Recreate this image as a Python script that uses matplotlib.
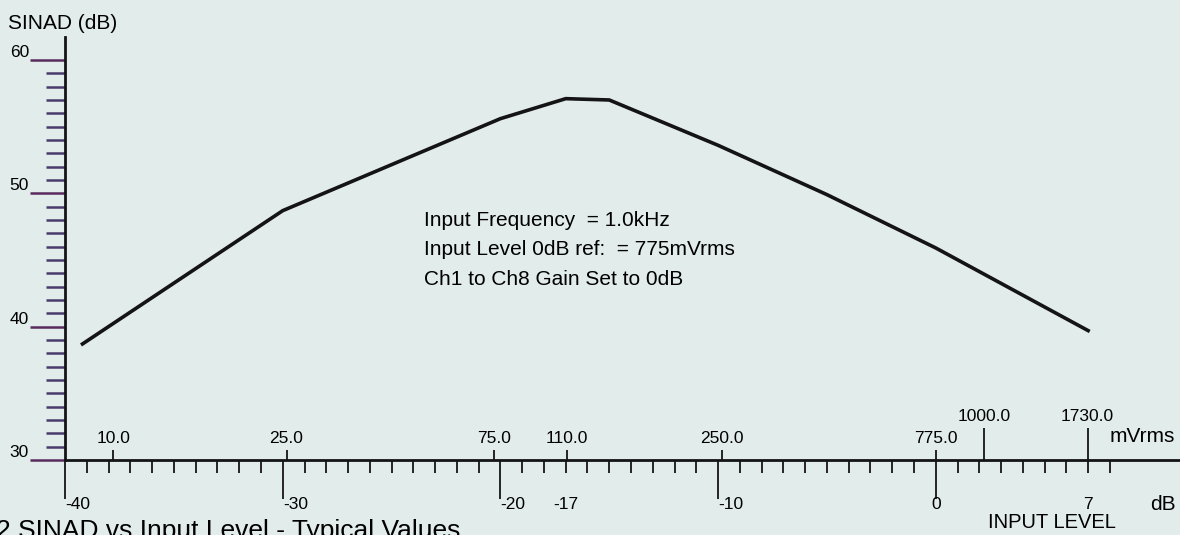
import numpy as np
import matplotlib.pyplot as plt
from matplotlib.ticker import FuncFormatter

# SINAD vs input level (typical)
level_db = [-39.2, -30, -20, -17, -15, -10, -5, 0, 7]
sinad_db = [38.7, 48.7, 55.6, 57.1, 57.0, 53.6, 49.9, 45.9, 39.7]

# axis ticks
db_major = [-40, -30, -20, -10, 0]
db_minor = [v for v in range(-39, 9) if v not in db_major]
db_minor_labels = [-17, 7]
mv_short = [10.0, 25.0, 75.0, 110.0, 250.0, 775.0]
mv_long = [1000.0, 1730.0]
sinad_major = [30, 40, 50, 60]
sinad_minor = [v for v in range(31, 60) if v not in sinad_major]

notes = ['Input Frequency  = 1.0kHz',
         'Input Level 0dB ref:  = 775mVrms',
         'Ch1 to Ch8 Gain Set to 0dB']
caption = '2 SINAD vs Input Level - Typical Values'

REF_MV = 775.0


def db_to_mv(d):
    return REF_MV * 10 ** (np.asarray(d, dtype=float) / 20)


def mv_to_db(v):
    return 20 * np.log10(np.maximum(np.asarray(v, dtype=float), 1e-6) / REF_MV)


plt.rcParams['font.family'] = ['Liberation Sans', 'DejaVu Sans']
plt.rcParams['ytick.alignment'] = 'bottom'

bg = '#e2ecea'
ink = '#141414'
fig = plt.figure(figsize=(11.8, 5.35), dpi=100)
fig.patch.set_facecolor(bg)
ax = fig.add_axes([0, 0, 1, 1])
ax.set_facecolor(bg)
xlim = (-42.99, 11.22)
ylim = (24.37, 64.5)
ax.set_xlim(*xlim)
ax.set_ylim(*ylim)

ax.plot(level_db, sinad_db, color=ink, lw=2.6, solid_joinstyle='miter')

# axes through (-40 dB, 30 dB SINAD)
for s in ['top', 'right']:
    ax.spines[s].set_visible(False)
ax.spines['left'].set_position(('data', -40))
ax.spines['bottom'].set_position(('data', 30))
ax.spines['left'].set_bounds(30, 61.7)
ax.spines['bottom'].set_bounds(-40, xlim[1])
for s in ['left', 'bottom']:
    ax.spines[s].set_linewidth(2)
    ax.spines[s].set_color(ink)

ax.set_yticks(sinad_major)
ax.set_yticks(sinad_minor, minor=True)
ax.tick_params(axis='y', which='major', direction='out', length=25, width=1.8,
               pad=1, labelsize=12.5, color='#5a2a5e')
ax.tick_params(axis='y', which='minor', direction='out', length=13.5, width=1.8,
               color='#4a3a6e')

ax.set_xticks(db_major, [f'{v}' for v in db_major])
ax.set_xticks(db_minor, minor=True)
ax.xaxis.set_minor_formatter(FuncFormatter(
    lambda v, p: f'{v:.0f}' if round(v) in db_minor_labels else ''))
ax.tick_params(axis='x', which='major', direction='out', length=28, width=1.3,
               pad=-1, labelsize=12.5, color=ink)
ax.tick_params(axis='x', which='minor', direction='out', length=9, width=1.3,
               pad=18, labelsize=12.5, color=ink)

# mVrms scale on top of the same line
loc = (30 - ylim[0]) / (ylim[1] - ylim[0])
sec = ax.secondary_xaxis(loc, functions=(db_to_mv, mv_to_db))
sec.set_alignment('top')
sec.spines['top'].set_visible(False)
sec.set_xticks(mv_long)
sec.set_xticks(mv_short, minor=True)
fmt = FuncFormatter(lambda v, p: f'{v:.1f}')
sec.xaxis.set_major_formatter(fmt)
sec.xaxis.set_minor_formatter(fmt)
sec.tick_params(which='major', direction='out', length=23, width=1.3, pad=3,
                labelsize=12.5, color=ink)
sec.tick_params(which='minor', direction='out', length=7, width=1.3, pad=3,
                labelsize=12.5, color=ink)

for i, line in enumerate(notes):
    ax.text(-23.5, 47.55 - 2.21 * i, line, fontsize=15, va='baseline', ha='left')

fig.text(8 / 1180, 1 - 29 / 535, 'SINAD (dB)', fontsize=15, va='baseline')
fig.text(1110 / 1180, 1 - 436 / 535, 'mVrms', fontsize=15, va='center')
fig.text(1150 / 1180, 1 - 505 / 535, 'dB', fontsize=15, va='center')
fig.text(1052 / 1180, 1 - 523 / 535, 'INPUT LEVEL', fontsize=14.5, va='center', ha='center')
fig.text(-4 / 1180, 1 - 519 / 535, caption, fontsize=19, va='top')

# dB labels sit to the right of their long ticks, except the 0 dB one
fig.canvas.draw()
for t in ax.get_xticklabels()[:-1]:
    t.set_ha('left')

fig.savefig('out.png', dpi=100, facecolor=bg)
